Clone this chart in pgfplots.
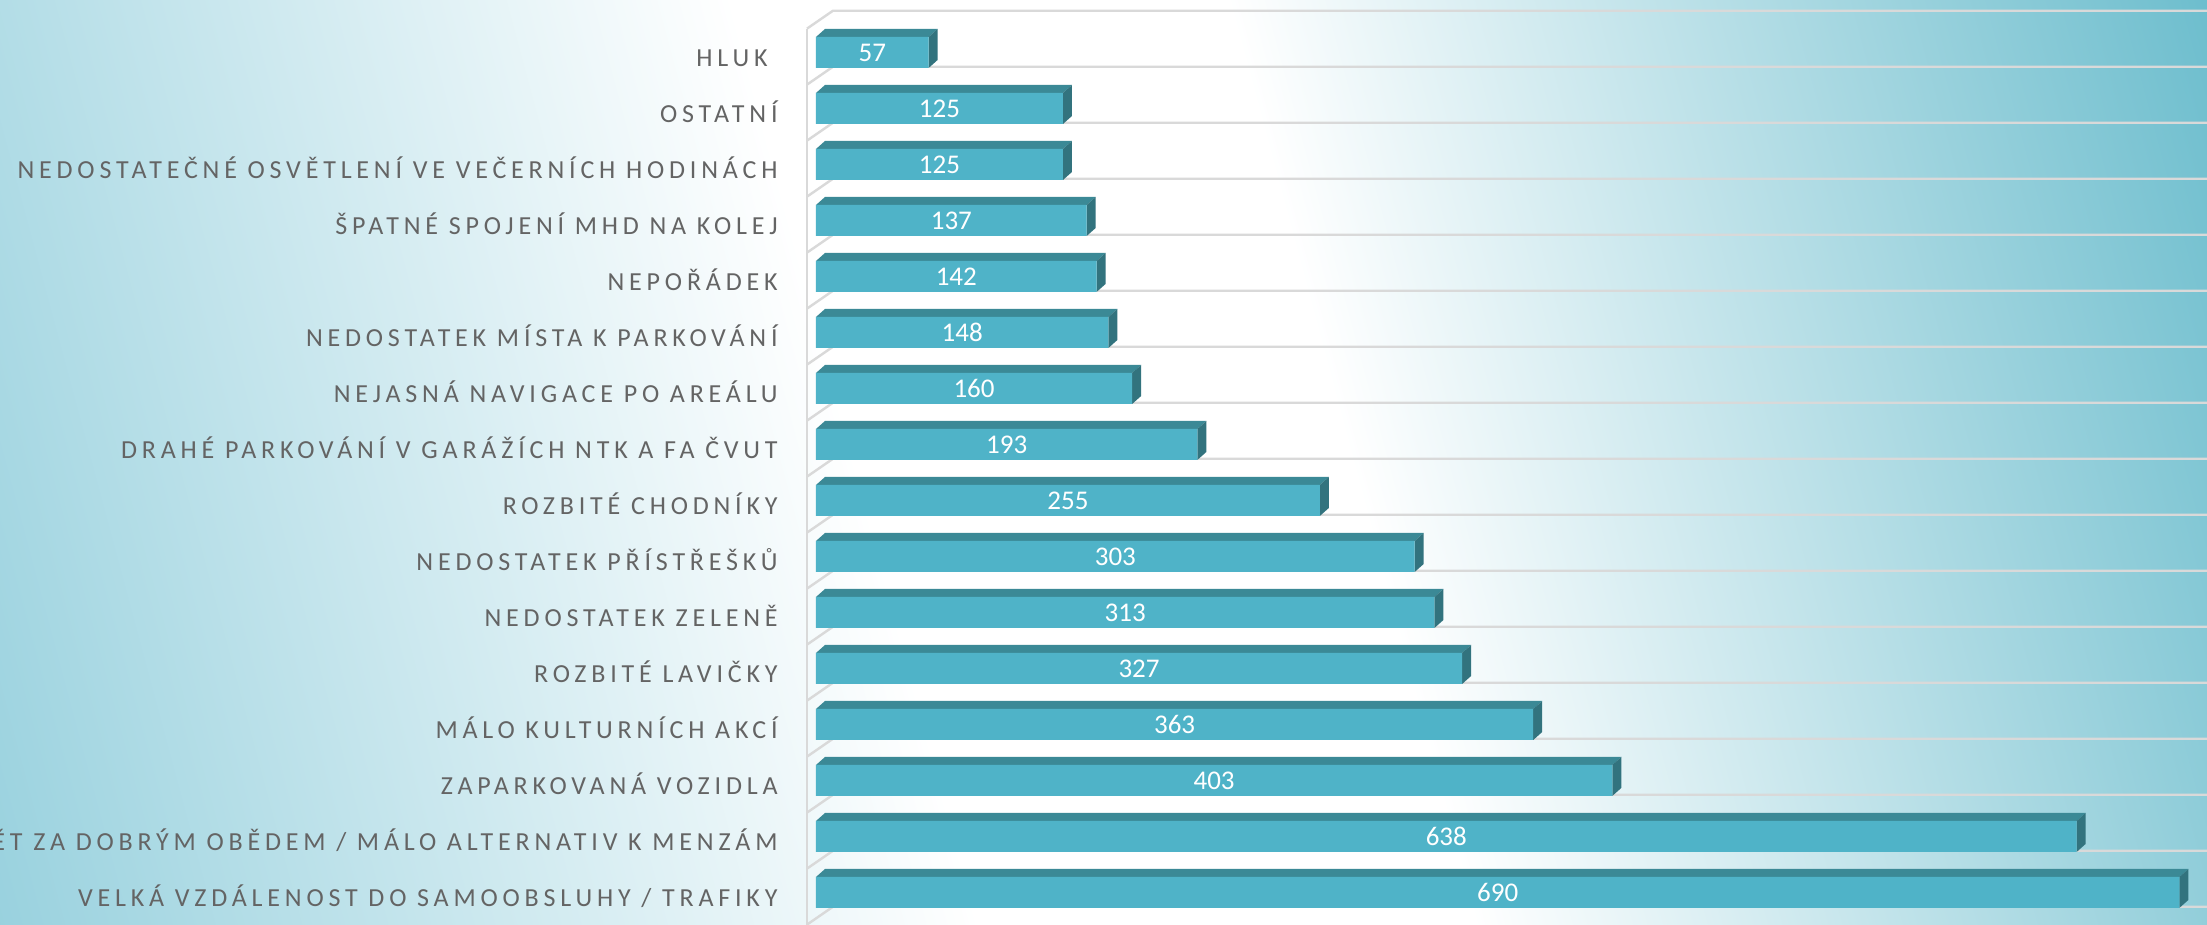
\documentclass[border=0pt]{standalone}
\usepackage{pgfplots}
\pgfplotsset{compat=1.18}
\usepackage{pgfplotstable}
\usepackage{fontspec}
\setmainfont{Carlito}
\newfontfamily\labfont[LetterSpace=18.5]{Carlito}
\newfontfamily\numfont{Carlito}
\definecolor{tealL}{RGB}{152,209,222}
\definecolor{tealR}{RGB}{108,189,205}
\definecolor{frontc}{RGB}{79,179,200}
\definecolor{topc}{RGB}{59,137,150}
\definecolor{sidec}{RGB}{50,115,126}
\definecolor{gridc}{RGB}{217,217,217}
\definecolor{labgray}{RGB}{100,100,100}
\pgfdeclarehorizontalshading{bgshade}{100bp}{color(0bp)=(tealL); color(25bp)=(tealL); color(45bp)=(white); color(55bp)=(white); color(75bp)=(tealR); color(100bp)=(tealR)}

\pgfplotstableread{
j v
0 690
1 638
2 403
3 363
4 327
5 313
6 303
7 255
8 193
9 160
10 148
11 142
12 137
13 125
14 125
15 57
}\datatable

\begin{document}
\begin{tikzpicture}
\useasboundingbox (0pt,0pt) rectangle (1103.5pt,462.5pt);
\clip (0pt,0pt) rectangle (1103.5pt,462.5pt);
\shade[shading=bgshade, shading angle=15] (-48.25pt,-368.75pt) rectangle (1151.75pt,831.25pt);
\begin{axis}[
  at={(408pt,0pt)}, anchor=south west,
  scale only axis, width=695.5pt, height=462.5pt,
  xmin=0, xmax=704, ymin=-0.5804, ymax=15.9375,
  clip=false,
  hide x axis,
  axis y line*=left,
  y axis line style={draw=none},
  ytick style={draw=none},
  ytick={0,...,15},
  yticklabels={VELKÁ VZDÁLENOST DO SAMOOBSLUHY / TRAFIKY,
    NUTNOST DOJÍŽDĚT ZA DOBRÝM OBĚDEM / MÁLO ALTERNATIV K MENZÁM,
    ZAPARKOVANÁ VOZIDLA,
    MÁLO KULTURNÍCH AKCÍ,
    ROZBITÉ LAVIČKY,
    NEDOSTATEK ZELENĚ,
    NEDOSTATEK PŘÍSTŘEŠKŮ,
    ROZBITÉ CHODNÍKY,
    DRAHÉ PARKOVÁNÍ V GARÁŽÍCH NTK A FA ČVUT,
    NEJASNÁ NAVIGACE PO AREÁLU,
    NEDOSTATEK MÍSTA K PARKOVÁNÍ,
    NEPOŘÁDEK,
    ŠPATNÉ SPOJENÍ MHD NA KOLEJ,
    NEDOSTATEČNÉ OSVĚTLENÍ VE VEČERNÍCH HODINÁCH,
    OSTATNÍ,
    HLUK\hspace*{5pt}},
  yticklabel style={font=\labfont\fontsize{13pt}{15pt}\selectfont, text=labgray, inner sep=0pt, anchor=base east, xshift=-19pt, yshift=-7pt},
]
% wall and grid lines
\pgfplotsinvokeforeach{0,...,16}{%
  \draw[gridc, line width=1.2pt] (axis cs:-4.55,#1-0.574) -- (axis cs:8.6,#1-0.254) -- (axis cs:704,#1-0.254);
}
\draw[gridc, line width=1.2pt] (axis cs:-4.55,15.426) -- (axis cs:-4.55,-0.5804);
% 3D faces
\pgfplotsinvokeforeach{0,...,15}{%
  \pgfplotstablegetelem{#1}{v}\of\datatable
  \pgfmathsetmacro\vv{\pgfplotsretval}
  \pgfmathsetmacro\va{\vv+4.55}
  \pgfmathsetmacro\yb{#1-0.2768}
  \pgfmathsetmacro\yt{#1+0.2768}
  \pgfmathsetmacro\ytt{#1+0.2768+0.143}
  \pgfmathsetmacro\ybb{#1-0.2768+0.143}
  \edef\temp{%
    \noexpand\addplot[fill=topc, draw=none] coordinates {(0,\yt) (\vv,\yt) (\va,\ytt) (4.55,\ytt)} -- cycle;
    \noexpand\addplot[fill=sidec, draw=none] coordinates {(\vv,\yt) (\va,\ytt) (\va,\ybb) (\vv,\yb)} -- cycle;
  }\temp
}
% front faces
\addplot[xbar, bar width=15.5pt, bar shift=0pt, fill=frontc, draw=none] table[x=v,y=j]{\datatable};
% value labels
\addplot[draw=none, mark=none, nodes near coords, point meta=explicit symbolic,
  every node near coord/.style={anchor=center, text=white, font=\numfont\fontsize{13.5pt}{15pt}\selectfont}]
  table[x expr=\thisrow{v}/2, y=j, meta=v]{\datatable};
\end{axis}
\end{tikzpicture}
\end{document}
